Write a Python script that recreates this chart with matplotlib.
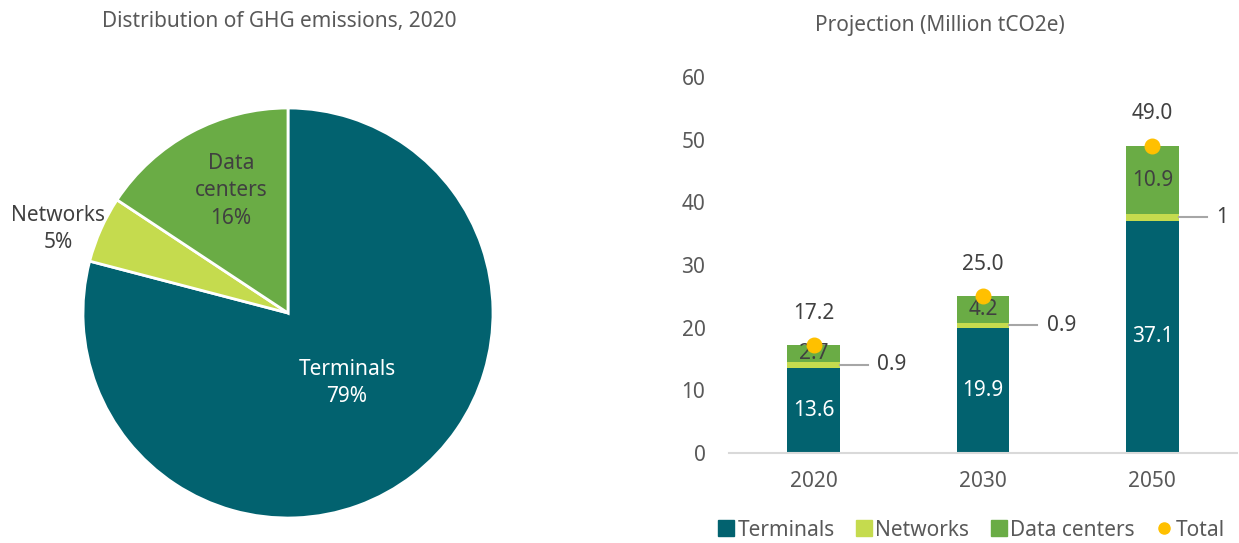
import matplotlib
matplotlib.use("Agg")
import matplotlib.pyplot as plt
from matplotlib.lines import Line2D
import numpy as np

plt.rcParams['font.family'] = ['Noto Sans', 'DejaVu Sans']

# Emissions by segment, million tCO2e
years = ["2020", "2030", "2050"]
terminals = [13.6, 19.9, 37.1]
networks = [0.9, 0.9, 1.0]
networks_labels = ["0.9", "0.9", "1"]
data_centers = [2.7, 4.2, 10.9]
totals = [17.2, 25.0, 49.0]

pie_labels = ["Terminals", "Networks", "Data\ncenters"]
pie_values = [13.6, 0.9, 2.7]

C_TERM = "#02626F"
C_NET = "#C5DB4E"
C_DC = "#6AAC45"
C_TOT = "#FFC000"
TXT = "#595959"
DARK = "#404040"
FS = 15

W, H = 1239, 543
fig = plt.figure(figsize=(W / 100, H / 100), dpi=100)

# ---------- Pie ----------
cx, cy, r = 288, 313, 205
axp = fig.add_axes([(cx - r) / W, (H - cy - r) / H, 2 * r / W, 2 * r / H])
wedges, _ = axp.pie(pie_values, colors=[C_TERM, C_NET, C_DC], startangle=90,
                    counterclock=False, radius=1.0,
                    wedgeprops=dict(edgecolor="white", linewidth=2))
axp.set_xlim(-1, 1)
axp.set_ylim(-1, 1)
axp.set_aspect("equal")
axp.axis("off")

pct = [v / sum(pie_values) * 100 for v in pie_values]


def px(x, y):
    return ((x - cx) / r, (cy - y) / r)


axp.text(*px(347, 383), f"{pie_labels[0]}\n{pct[0]:.0f}%", ha="center", va="center",
         color="white", fontsize=FS, linespacing=1.4)
axp.text(*px(58, 229), f"{pie_labels[1]}\n{pct[1]:.0f}%", ha="center", va="center",
         color=DARK, fontsize=FS, linespacing=1.4)
axp.text(*px(231, 191), f"{pie_labels[2]}\n{pct[2]:.0f}%", ha="center", va="center",
         color=DARK, fontsize=FS, linespacing=1.4)

fig.text(279 / W, 1 - 22 / H, "Distribution of GHG emissions, 2020", ha="center",
         va="center", color=TXT, fontsize=FS)

# ---------- Stacked bars ----------
x0, x1 = 729, 1237
y0, y1 = 453, 77
axb = fig.add_axes([x0 / W, (H - y0) / H, (x1 - x0) / W, (y0 - y1) / H])
x = np.arange(len(years))
bw = 0.31
t = np.array(terminals)
n = np.array(networks)
d = np.array(data_centers)
axb.bar(x, t, bw, color=C_TERM, label="Terminals")
axb.bar(x, n, bw, bottom=t, color=C_NET, label="Networks")
axb.bar(x, d, bw, bottom=t + n, color=C_DC, label="Data centers")
axb.scatter(x, totals, s=110, color=C_TOT, zorder=5, label="Total")

axb.set_xlim(-0.5, 2.5)
axb.set_ylim(0, 60)
axb.set_yticks(range(0, 61, 10))
axb.set_xticks(x)
axb.set_xticklabels(years)
for s in ["top", "right", "left"]:
    axb.spines[s].set_visible(False)
axb.spines["bottom"].set_color("#D9D9D9")
axb.spines["bottom"].set_linewidth(1.5)
axb.tick_params(axis="both", length=0, labelsize=FS, colors=TXT)
axb.tick_params(axis="y", pad=17)
axb.tick_params(axis="x", pad=13)

for i in range(len(years)):
    axb.text(x[i], t[i] / 2, f"{terminals[i]:.1f}", ha="center", va="center",
             color="white", fontsize=FS)
    axb.text(x[i], t[i] + n[i] + d[i] / 2, f"{data_centers[i]:.1f}", ha="center",
             va="center", color=DARK, fontsize=FS)
    axb.annotate(f"{totals[i]:.1f}", (x[i], totals[i]), xytext=(0, 23),
                 textcoords="offset points", ha="center", va="center",
                 color=DARK, fontsize=FS)
    ym = t[i] + n[i] / 2
    xr = x[i] + bw / 2
    axb.plot([xr, xr + 0.165], [ym, ym], color="#A6A6A6", lw=1.5, clip_on=False)
    axb.text(xr + 0.22, ym, networks_labels[i], ha="left", va="center",
             color=DARK, fontsize=FS)

fig.text(940 / W, 1 - 25 / H, "Projection (Million tCO2e)", ha="center", va="center",
         color=TXT, fontsize=FS)

handles = [
    Line2D([], [], marker="s", linestyle="none", markersize=11, color=C_TERM),
    Line2D([], [], marker="s", linestyle="none", markersize=11, color=C_NET),
    Line2D([], [], marker="s", linestyle="none", markersize=11, color=C_DC),
    Line2D([], [], marker="o", linestyle="none", markersize=8, color=C_TOT),
]
leg = fig.legend(handles, ["Terminals", "Networks", "Data centers", "Total"],
                 loc="center", bbox_to_anchor=(970 / W, 1 - 530 / H), ncol=4,
                 frameon=False, fontsize=FS, handletextpad=0.05, columnspacing=0.9,
                 handlelength=1.0)
for txt in leg.get_texts():
    txt.set_color(TXT)

fig.savefig("out.png", dpi=100)
